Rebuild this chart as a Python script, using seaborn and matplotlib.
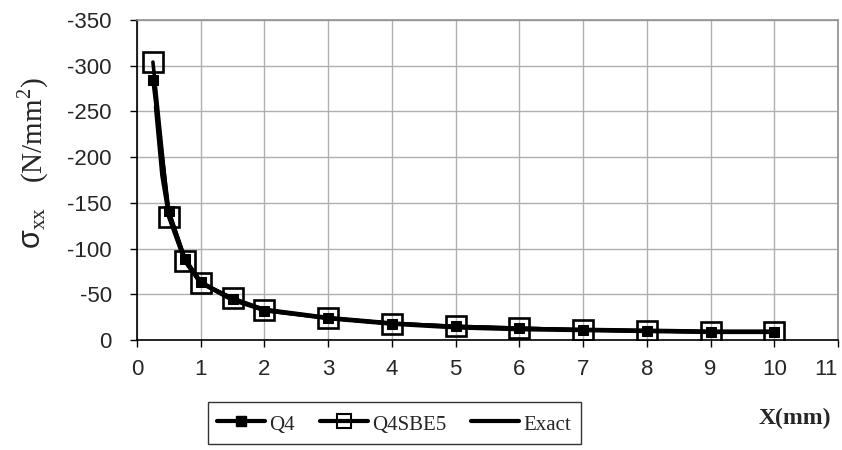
import matplotlib
matplotlib.use("Agg")
import matplotlib.pyplot as plt
import seaborn as sns
import pandas as pd
from matplotlib.lines import Line2D

# Stress sigma_xx along X (N/mm^2), compression shown negative
x_q4 = [0.25, 0.5, 0.75, 1.0, 1.5, 2.0, 3.0, 4.0, 5.0, 6.0, 7.0, 8.0, 9.0, 10.0]
q4 = [-284, -141, -89, -63, -45, -32, -24, -18, -15, -13, -11, -10, -9, -9]

x_sbe5 = [0.25, 0.5, 0.75, 1.0, 1.5, 2.0, 3.0, 4.0, 5.0, 6.0, 7.0, 8.0, 9.0, 10.0]
q4sbe5 = [-304, -134, -86, -62, -46, -33, -24, -18, -15, -13, -11, -10, -9, -9]

x_exact = [0.3, 0.4, 0.5, 0.75, 1.0, 1.5, 2.0, 3.0, 4.0, 5.0, 6.0, 7.0, 8.0, 9.0, 10.0]
exact = [-255, -180, -138, -88, -63, -44, -33, -24, -18, -14, -12, -11, -10, -9, -9]

x_ticks = list(range(0, 12))
y_ticks = [0, -50, -100, -150, -200, -250, -300, -350]
series_names = ["Q4", "Q4SBE5", "Exact"]

sns.set_theme(style="white")
plt.rcParams["font.family"] = ["Liberation Sans", "DejaVu Sans"]
plt.rcParams["axes.unicode_minus"] = False
plt.rcParams["mathtext.fontset"] = "custom"
plt.rcParams["mathtext.rm"] = "Liberation Serif"
plt.rcParams["mathtext.sf"] = "Liberation Sans"

fig = plt.figure(figsize=(8.42, 4.5), dpi=100)
ax = fig.add_axes([137 / 842, 1 - 340 / 450, (838 - 137) / 842, 320 / 450])

df_exact = pd.DataFrame({"x": x_exact, "y": exact})
df_q4 = pd.DataFrame({"x": x_q4, "y": q4})
df_sbe = pd.DataFrame({"x": x_sbe5, "y": q4sbe5})

sns.lineplot(data=df_exact, x="x", y="y", ax=ax, color="black", lw=3.4,
             sort=False, zorder=3)
sns.lineplot(data=df_sbe, x="x", y="y", ax=ax, color="black", lw=2.6,
             marker="s", markersize=15, markerfacecolor="none",
             markeredgecolor="black", markeredgewidth=1.9, sort=False, zorder=4)
sns.lineplot(data=df_q4, x="x", y="y", ax=ax, color="black", lw=2.6,
             marker="s", markersize=7.5, markerfacecolor="black",
             markeredgecolor="black", sort=False, zorder=5)

ax.set_xlim(0, 11)
ax.set_ylim(0, -350)
ax.set_xticks(x_ticks)
ax.set_yticks(y_ticks)
ax.grid(True, color="#b0b0b0", lw=1)
ax.set_axisbelow(True)
ax.tick_params(axis="both", which="major", direction="out", length=5, width=1,
               color="black", labelsize=16, bottom=True, left=True)
ax.tick_params(axis="y", pad=13)
ax.tick_params(axis="x", pad=9)
# keep the last x label inside the figure
ax.get_xticklabels()[-1].set_horizontalalignment("right")
for side in ("top", "right"):
    ax.spines[side].set_color("#909090")
    ax.spines[side].set_linewidth(1.2)
for side in ("left", "bottom"):
    ax.spines[side].set_color("black")
    ax.spines[side].set_linewidth(1.2)
ax.set_xlabel("")
ax.set_ylabel("")

fig.text(33 / 842, 1 - 228 / 450, r"$\mathsf{\sigma}_{\mathrm{xx}}$",
         rotation=90, ha="center", va="center", fontsize=22,
         family="Liberation Serif")
fig.text(33 / 842, 1 - 130 / 450, r"(N/mm$^{2}$)",
         rotation=90, ha="center", va="center", fontsize=21,
         family="Liberation Serif")
fig.text(795 / 842, 1 - 418 / 450, "X(mm)", ha="center", va="center",
         fontsize=17, fontweight="bold", family="Liberation Serif")

handles = [
    Line2D([], [], color="black", lw=3, marker="s", markersize=7,
           markerfacecolor="black"),
    Line2D([], [], color="black", lw=3, marker="s", markersize=10,
           markerfacecolor="none", markeredgewidth=1.5),
    Line2D([], [], color="black", lw=3),
]
leg = fig.legend(handles, series_names, loc="upper left",
                 bbox_to_anchor=(208 / 842, 1 - 402 / 450), ncol=3,
                 frameon=True, fancybox=False, shadow=False,
                 prop={"family": "Liberation Serif", "size": 15},
                 handlelength=2.3, handleheight=1.3, handletextpad=0.2,
                 columnspacing=1.2, borderpad=0.45, borderaxespad=0)
leg.get_frame().set_edgecolor("black")
leg.get_frame().set_linewidth(1.0)

fig.savefig("out.png", dpi=100)
